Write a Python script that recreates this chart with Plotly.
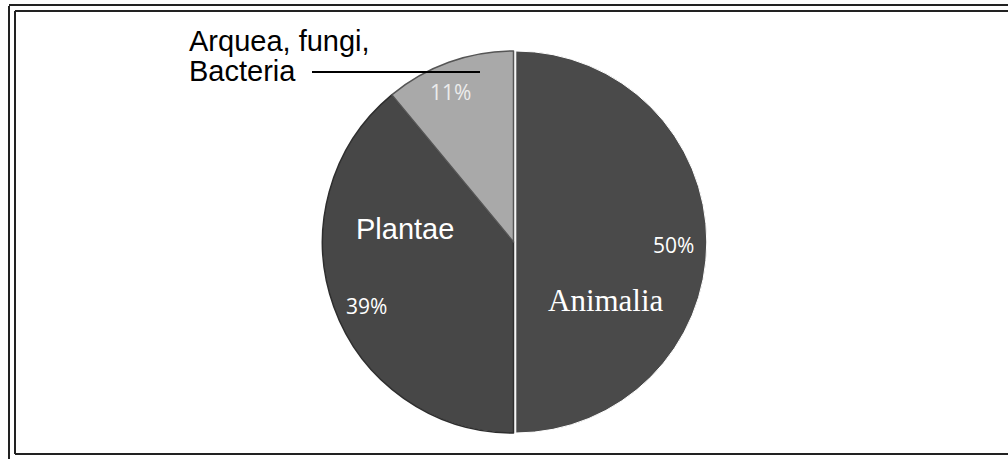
import plotly.graph_objects as go

# Data
categories = ["Animalia", "Plantae", "Arquea, fungi,<br>Bacteria"]
values = [50, 39, 11]
pct_labels = ["50%", "39%", "11%"]
slice_colors = ["#4a4a4a", "#474747", "#a9a9a9"]

W, H = 1008, 459
cx, cy, r = 513.5, 242, 191
pull = [0.012, 0, 0]
reff = r * (1 + max(pull))


def px(x):
    return x / W


def py(y):
    return 1 - y / H


fig = go.Figure()
fig.add_trace(go.Pie(
    labels=categories,
    values=values,
    sort=False,
    direction="clockwise",
    rotation=0,
    pull=pull,
    textinfo="none",
    hoverinfo="label+percent",
    marker=dict(colors=slice_colors,
                line=dict(color=["white", "#2e2e2e", "#555555"], width=[1, 1.5, 1.5])),
    domain=dict(x=[px(cx - reff), px(cx + reff)], y=[py(cy + reff), py(cy - reff)]),
    showlegend=False,
))

ann = []


def label(x, y, text, font, xanchor="center"):
    ann.append(dict(x=px(x), y=py(y), text=text, showarrow=False,
                    xanchor=xanchor, yanchor="middle", align="left", font=font))


# Category names
label(606, 300, categories[0], dict(family="Liberation Serif", size=31, color="white"))
label(405, 229, categories[1], dict(family="Liberation Sans, Arial", size=29, color="white"))
line_y = [41, 71]
for part, yy in zip(categories[2].split("<br>"), line_y):
    label(187, yy, part, dict(family="Liberation Sans, Arial", size=29, color="black"),
          xanchor="left")
# Percent labels
label(673, 245, pct_labels[0], dict(family="Open Sans", size=21, color="white"))
label(366, 306, pct_labels[1], dict(family="Open Sans", size=21, color="white"))
label(450, 92, pct_labels[2], dict(family="Open Sans", size=21, color="#ececec"))

shapes = [
    # leader line
    dict(type="line", xref="paper", yref="paper", x0=px(312), x1=px(480), y0=py(72), y1=py(72),
         line=dict(color="black", width=2)),
    # outer frame
    dict(type="line", xref="paper", yref="paper", x0=px(9), x1=px(9), y0=py(6), y1=py(470),
         line=dict(color="#222", width=2)),
    dict(type="line", xref="paper", yref="paper", x0=px(9), x1=px(1020), y0=py(5), y1=py(5),
         line=dict(color="#222", width=2)),
    # inner frame
    dict(type="line", xref="paper", yref="paper", x0=px(15), x1=px(15), y0=py(11), y1=py(454),
         line=dict(color="#222", width=2)),
    dict(type="line", xref="paper", yref="paper", x0=px(15), x1=px(1020), y0=py(11), y1=py(11),
         line=dict(color="#222", width=2)),
    dict(type="line", xref="paper", yref="paper", x0=px(15), x1=px(1020), y0=py(454), y1=py(454),
         line=dict(color="#222", width=2)),
]

fig.update_layout(
    width=W, height=H,
    margin=dict(l=0, r=0, t=0, b=0),
    paper_bgcolor="white",
    plot_bgcolor="white",
    annotations=ann,
    shapes=shapes,
)

fig.write_html("out.html")
